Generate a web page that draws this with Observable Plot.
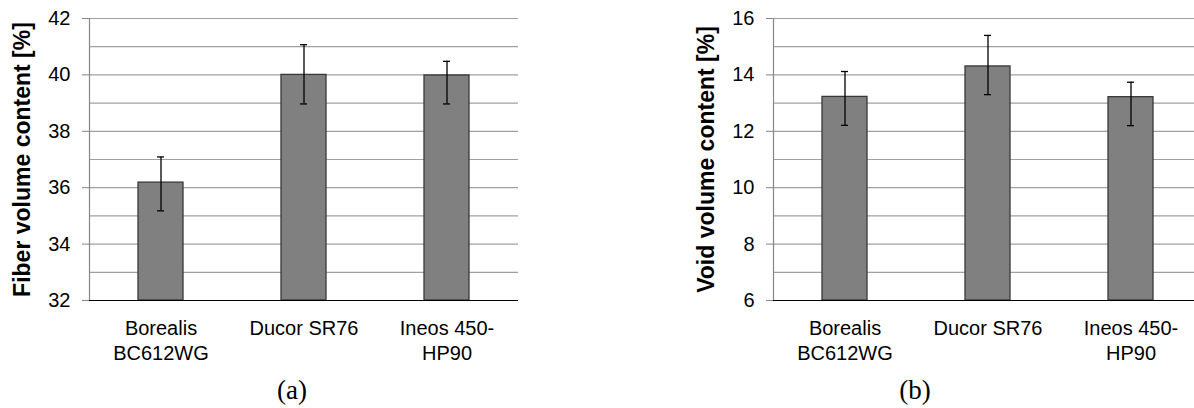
<!DOCTYPE html>
<html><head><meta charset="utf-8">
<script src="https://cdn.jsdelivr.net/npm/d3@7"></script>
<script src="https://cdn.jsdelivr.net/npm/@observablehq/plot@0.6"></script>
<style>
html,body{margin:0;padding:0;background:#fff;overflow:hidden;width:1194px;height:408px;}
#wrap{position:relative;width:1194px;height:408px;overflow:hidden;}
.panel{position:absolute;top:0;height:408px;}
.panel svg{max-width:none !important;display:block;}
.cap{position:absolute;font-family:"Liberation Serif","Times New Roman",serif;font-size:27px;line-height:27px;top:377px;transform:translateX(-50%);white-space:nowrap;color:#000;}
</style></head><body>
<div id="wrap">
  <div id="pa" class="panel" style="left:0;width:600px"></div>
  <div id="pb" class="panel" style="left:600px;width:620px"></div>
  <div class="cap" style="left:292px">(a)</div>
  <div class="cap" style="left:915px">(b)</div>
</div>
<script>
const categories = ["Borealis BC612WG", "Ducor SR76", "Ineos 450-HP90"];
const tickLabels = ["Borealis\nBC612WG", "Ducor SR76", "Ineos 450-\nHP90"];

const fiberMean = [36.18, 40.00, 39.98];
const fiberLow  = [35.18, 38.97, 38.97];
const fiberHigh = [37.09, 41.07, 40.48];

const voidMean = [13.22, 14.30, 13.21];
const voidLow  = [12.21, 13.30, 12.20];
const voidHigh = [14.12, 15.40, 13.74];

const fiberTicks = [32, 34, 36, 38, 40, 42];
const fiberGrid  = [32, 33, 34, 35, 36, 37, 38, 39, 40, 41, 42];
const voidTicks  = [6, 8, 10, 12, 14, 16];
const voidGrid   = [6, 7, 8, 9, 10, 11, 12, 13, 14, 15, 16];

const fiberTitle = "Fiber volume content [%]";
const voidTitle = "Void volume content [%]";

function panel({mean, low, high, ticks, grid, title, width, marginLeft, marginRight}) {
  const data = categories.map((c, i) => ({c, m: mean[i], lo: low[i], hi: high[i]}));
  const domain = [grid[0], grid[grid.length - 1]];
  return Plot.plot({
    width, height: 408, marginLeft, marginRight, marginTop: 18, marginBottom: 108,
    style: {fontFamily: "'Liberation Sans', Arial, sans-serif", fontSize: "20px", color: "#000", background: "transparent", overflow: "visible", maxWidth: "none"},
    x: {domain: categories, paddingInner: 0.685, paddingOuter: 0.3425, axis: null, label: null},
    y: {domain, axis: null, label: null},
    marks: [
      Plot.ruleY(grid, {stroke: "#a0a0a0", strokeWidth: 1.2}),
      Plot.frame({anchor: "left", stroke: "#868686", strokeWidth: 1.2}),
      Plot.axisY(ticks, {tickSize: 7, tickPadding: 12, fontSize: 20, stroke: "#868686", label: null}),
      Plot.axisX({tickSize: 0, tickPadding: 17.5, tickFormat: d => tickLabels[categories.indexOf(d)], lineHeight: 1.215, fontSize: 20, label: null}),
      Plot.barY(data, {x: "c", y1: domain[0], y2: "m", fill: "#808080", stroke: "#383838", strokeWidth: 1.3}),
      Plot.ruleX(data, {x: "c", y1: "lo", y2: "hi", stroke: "#000", strokeWidth: 1.3}),
      Plot.tickY(data, {x: "c", y: "lo", insetLeft: 19, insetRight: 19, stroke: "#000", strokeWidth: 1.3}),
      Plot.tickY(data, {x: "c", y: "hi", insetLeft: 19, insetRight: 19, stroke: "#000", strokeWidth: 1.3}),
      Plot.ruleY([domain[0]], {stroke: "#000", strokeWidth: 1.2}),
      Plot.text([title], {frameAnchor: "left", dx: -67, rotate: -90, fontWeight: "bold", fontSize: 23, textAnchor: "middle", fill: "#000"})
    ]
  });
}

document.getElementById("pa").append(panel({
  mean: fiberMean, low: fiberLow, high: fiberHigh, ticks: fiberTicks, grid: fiberGrid,
  title: fiberTitle, width: 600, marginLeft: 89, marginRight: 82
}));
document.getElementById("pb").append(panel({
  mean: voidMean, low: voidLow, high: voidHigh, ticks: voidTicks, grid: voidGrid,
  title: voidTitle, width: 620, marginLeft: 173, marginRight: 18
}));
</script>
</body></html>
